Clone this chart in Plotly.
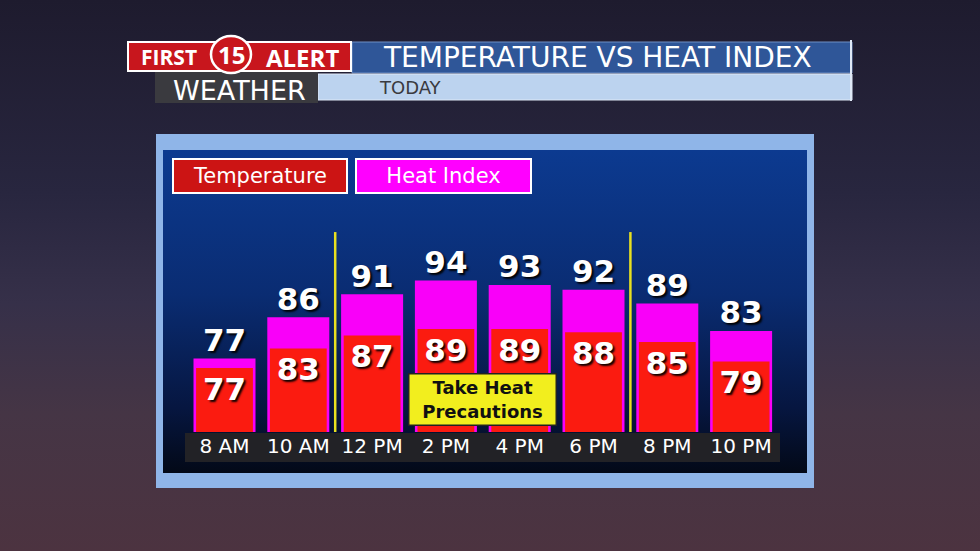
import plotly.graph_objects as go

# ---------------- data ----------------
hours = ["8 AM", "10 AM", "12 PM", "2 PM", "4 PM", "6 PM", "8 PM", "10 PM"]
temperature = [77, 83, 87, 89, 89, 88, 85, 79]
heat_index = [77, 86, 91, 94, 93, 92, 89, 83]
title_text = "TEMPERATURE VS HEAT INDEX"
subtitle_text = "TODAY"
legend_labels = ["Temperature", "Heat Index"]
note_text = "Take Heat<br>Precautions"
divider_positions = [1.5, 5.5]

# ---------------- layout constants (pixels) ----------------
W, H = 980, 551
X_L, X_R = 187.6, 778.0
Y_T, Y_B = 150.0, 432.0
HI_RANGE = [61.0, 61.0 + (Y_B - Y_T) / 4.59]
T_RANGE = [57.3, 57.3 + (Y_B - Y_T) / 3.25]

FONT = "DejaVu Sans"
RED = "#fb1b10"
MAGENTA = "#f900f9"
SHADOW = "2px 2px 2px rgba(0,0,0,0.95)"

fig = go.Figure()


def rect_trace(x0, x1, y0, y1, color=None, stops=None):
    kw = dict(x=[x0, x1, x1, x0, x0], y=[y0, y0, y1, y1, y0], mode="lines",
              line=dict(width=0), fill="toself", hoverinfo="skip",
              showlegend=False, xaxis="x", yaxis="y")
    if stops:
        kw["fillgradient"] = dict(type="vertical", colorscale=stops, start=y0, stop=y1)
        kw["fillcolor"] = stops[0][1]
    else:
        kw["fillcolor"] = color
    fig.add_trace(go.Scatter(**kw))


# background (pixel-coordinate subplot x/y)
rect_trace(0, W, 0, H, stops=[[0, "#1e1b2e"], [0.35, "#28263f"], [0.55, "#363049"],
                              [0.75, "#453545"], [1, "#4c3340"]])
for r, op in [(300, 0.07), (220, 0.08), (150, 0.09)]:
    fig.add_shape(type="circle", xref="x", yref="y", x0=930 - r, x1=930 + r, y0=110 - r * 0.6,
                  y1=110 + r * 0.6, fillcolor="#3a4a8a", opacity=op, line_width=0, layer="below")
    fig.add_shape(type="circle", xref="x", yref="y", x0=900 - r * 0.7, x1=900 + r * 0.7,
                  y0=260 - r * 0.5, y1=260 + r * 0.5, fillcolor="#8a88a8", opacity=op * 0.8,
                  line_width=0, layer="below")
    fig.add_shape(type="circle", xref="x", yref="y", x0=40 - r * 0.8, x1=40 + r * 0.8,
                  y0=460 - r * 0.6, y1=460 + r * 0.6, fillcolor="#b0706a", opacity=op,
                  line_width=0, layer="below")
    fig.add_shape(type="circle", xref="x", yref="y", x0=560 - r * 1.3, x1=560 + r * 1.3,
                  y0=560 - r * 0.35, y1=560 + r * 0.35, fillcolor="#a0685a", opacity=op,
                  line_width=0, layer="below")

# panel border + inner gradient panel + label band
rect_trace(156, 814, 134, 488, color="#8fb5e8")
rect_trace(163, 807, 150, 473, stops=[[0, "#0c3a90"], [0.45, "#0a2c72"], [0.8, "#061640"],
                                      [1, "#030917"]])
rect_trace(185, 780, 433, 462, color="#222226")

# header
fig.add_shape(type="rect", xref="x", yref="y", x0=352, x1=852, y0=42, y1=73,
              fillcolor="#2f5698", line=dict(color="#6f8fc4", width=1), layer="above")
fig.add_shape(type="rect", xref="x", yref="y", x0=318, x1=852, y0=74, y1=100,
              fillcolor="#bcd3ef", line=dict(color="#dfe9f7", width=1), layer="above")
fig.add_shape(type="rect", xref="x", yref="y", x0=155, x1=318, y0=72, y1=103,
              fillcolor="#3a3a3f", line_width=0, layer="above")
fig.add_shape(type="rect", xref="x", yref="y", x0=128, x1=351, y0=42, y1=71,
              fillcolor="#c8161d", line=dict(color="white", width=2), layer="above")
fig.add_shape(type="circle", xref="x", yref="y", x0=211, x1=251, y0=36, y1=73,
              fillcolor="#c8161d", line=dict(color="white", width=2.5), layer="above")
fig.add_shape(type="line", xref="x", yref="y", x0=851, x1=851, y0=40, y1=101,
              line=dict(color="#dfe9f7", width=2), layer="above")

# ---------------- chart traces ----------------
fig.add_trace(go.Bar(x=hours, y=heat_index, xaxis="x2", yaxis="y2", width=0.84,
                     marker=dict(color=MAGENTA, line_width=0), hoverinfo="skip",
                     name=legend_labels[1], showlegend=False))
fig.add_trace(go.Scatter(x=hours, y=heat_index, xaxis="x2", yaxis="y2", mode="text",
                         text=[str(v) for v in heat_index], textposition="top center",
                         textfont=dict(family=FONT, size=31, color="white", weight="bold",
                                       shadow=SHADOW),
                         cliponaxis=False, hoverinfo="skip", showlegend=False))
fig.add_trace(go.Bar(x=hours, y=temperature, xaxis="x2", yaxis="y3", width=0.77,
                     marker=dict(color=RED, line_width=0), hoverinfo="skip",
                     text=[str(v) for v in temperature], textposition="inside",
                     insidetextanchor="end", textangle=0, constraintext="none",
                     textfont=dict(family=FONT, size=31, color="white", weight="bold",
                                   shadow=SHADOW),
                     name=legend_labels[0], showlegend=False))

for xv in divider_positions:
    fig.add_shape(type="line", xref="x2", yref="y2 domain", x0=xv, x1=xv, y0=0, y1=0.709,
                  line=dict(color="#e8e020", width=2.5), layer="above")

# ---------------- annotations ----------------
C = dict(showarrow=False, xanchor="center", yanchor="middle")
ann = [
    dict(xref="x", yref="y", x=169, y=57, text="<b>FIRST</b>",
         font=dict(family="Open Sans", size=21, color="white"), **C),
    dict(xref="x", yref="y", x=231, y=54, text="<b>15</b>",
         font=dict(family="Open Sans", size=24, color="white"), **C),
    dict(xref="x", yref="y", x=302, y=57, text="<b>ALERT</b>",
         font=dict(family="Open Sans", size=24, color="white"), **C),
    dict(xref="x", yref="y", x=239, y=90, text="WEATHER",
         font=dict(family=FONT, size=27, color="white"), **C),
    dict(xref="x", yref="y", x=597, y=57, text=title_text,
         font=dict(family=FONT, size=28, color="white"), **C),
    dict(xref="x", yref="y", x=377, y=87, text=subtitle_text, showarrow=False,
         xanchor="left", yanchor="middle", font=dict(family=FONT, size=18, color="#3a3a40")),
    dict(xref="x", yref="y", x=260, y=176, text=legend_labels[0],
         width=172, height=32, bgcolor="#cc1414", bordercolor="white", borderwidth=2,
         borderpad=0, font=dict(family=FONT, size=21, color="white"), **C),
    dict(xref="x", yref="y", x=443.5, y=176, text=legend_labels[1],
         width=173, height=32, bgcolor="#ff00ff", bordercolor="white", borderwidth=2,
         borderpad=0, font=dict(family=FONT, size=21, color="white"), **C),
    dict(xref="x2", yref="y2 domain", x=3.5, y=(Y_B - 399) / (Y_B - Y_T),
         text="<b>" + note_text + "</b>", width=146, height=50,
         bgcolor="#f2ee1e", bordercolor="#222", borderwidth=1.5, borderpad=0,
         font=dict(family=FONT, size=18, color="#111"), **C),
]

fig.update_layout(
    width=W, height=H, margin=dict(l=0, r=0, t=0, b=0),
    paper_bgcolor="#2a2538", plot_bgcolor="rgba(0,0,0,0)",
    barmode="overlay", showlegend=False, annotations=ann,
    xaxis=dict(domain=[0, 1], range=[0, W], visible=False, fixedrange=True),
    yaxis=dict(domain=[0, 1], range=[H, 0], visible=False, fixedrange=True),
    xaxis2=dict(domain=[X_L / W, X_R / W], anchor="y2", range=[-0.5, 7.5],
                showgrid=False, zeroline=False, showline=False, ticks="",
                tickfont=dict(family=FONT, size=20, color="white"), fixedrange=True),
    yaxis2=dict(domain=[(H - Y_B) / H, (H - Y_T) / H], anchor="x2", range=HI_RANGE,
                visible=False, fixedrange=True),
    yaxis3=dict(overlaying="y2", anchor="x2", range=T_RANGE, visible=False, fixedrange=True),
)

fig.write_html("out.html", config={"displayModeBar": False},
               post_script="document.body.style.margin='0';document.body.style.overflow='hidden';")
